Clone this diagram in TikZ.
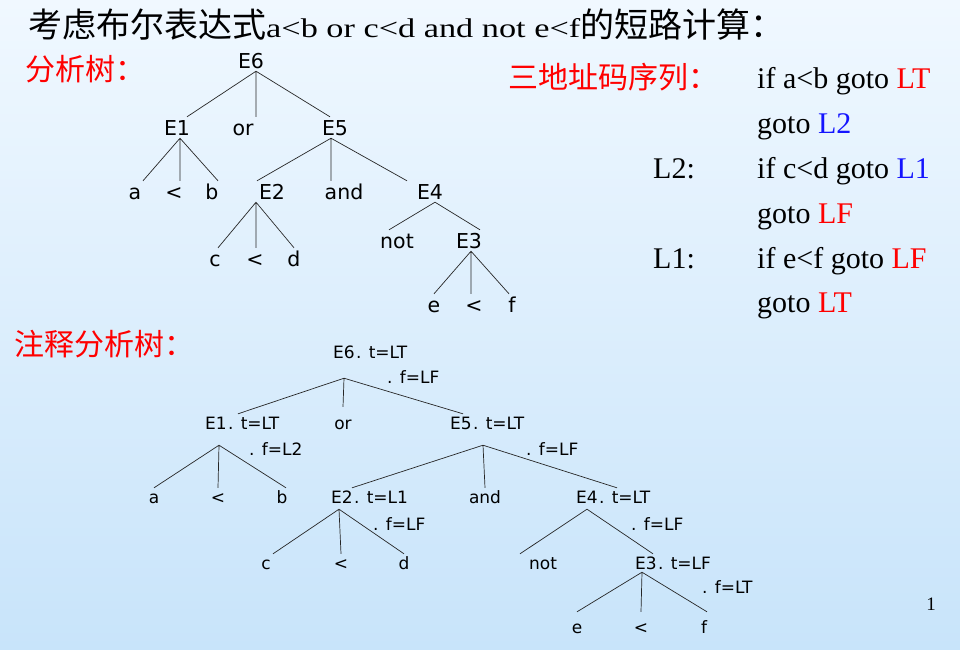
\documentclass[tikz,border=0pt]{standalone}
\usepackage{fontspec}
\setmainfont{Liberation Serif}
\setsansfont{DejaVu Sans}
\newfontfamily\cjk{Noto Sans CJK SC}
\newfontfamily\widefont[FakeStretch=1.27]{Liberation Serif}
\usetikzlibrary{positioning}
\definecolor{bgtop}{RGB}{240,248,255}
\definecolor{bgmid}{RGB}{226,241,253}
\definecolor{bgbottom}{RGB}{200,228,250}
\definecolor{labred}{RGB}{255,0,0}
\definecolor{labblue}{RGB}{20,20,255}

\begin{document}
\begin{tikzpicture}[
        x=1pt, y=-1pt,
        tnode/.style={font=\sffamily\fontsize{20.5}{24}\selectfont, text height=15pt, text depth=0pt, inner sep=3pt, anchor=base},
        anode/.style={font=\sffamily\fontsize{17}{20}\selectfont, text height=12pt, text depth=0pt, inner xsep=1pt, inner ysep=3pt, anchor=base},
        attr/.style={font=\sffamily\fontsize{17}{20}\selectfont, inner sep=0pt, anchor=base west},
        codeline/.style={font=\fontsize{30}{36}\selectfont, inner sep=0pt, anchor=base west},
        redlabel/.style={font=\cjk\fontsize{30}{36}\selectfont, text=labred, inner sep=0pt, anchor=base west},
        tline/.style={draw=black!85, line width=0.7pt}
    ]
    \shade[top color=bgtop, middle color=bgmid, bottom color=bgbottom] (0,0) rectangle (960,649);

    % title
    \node[inner sep=0pt, anchor=base west] (title) at (28,37)
        {\cjk\fontsize{34}{40}\selectfont 考虑布尔表达式{\widefont\fontsize{27}{32}\selectfont a<b or c<d and not e<f}的短路计算：};

    % parse tree
    \node[redlabel] (treelabel) at (25,80) {分析树：};
    \node[tnode] (t6) at (251,68) {E6};
    \node[tnode] (t1) at (177,135) {E1};
    \node[tnode] (tor) at (243,135) {or};
    \node[tnode] (t5) at (335,135) {E5};
    \node[tnode] (ta) at (135,199) {a};
    \node[tnode] (tlt1) at (174,199) {<};
    \node[tnode] (tb) at (212,199) {b};
    \node[tnode] (t2) at (272,199) {E2};
    \node[tnode] (tand) at (344,199) {and};
    \node[tnode] (t4) at (430,199) {E4};
    \node[tnode] (tc) at (215,266) {c};
    \node[tnode] (tlt2) at (255,266) {<};
    \node[tnode] (td) at (294,266) {d};
    \node[tnode] (tnot) at (397,248) {not};
    \node[tnode] (t3) at (469,248) {E3};
    \node[tnode] (te) at (434,312) {e};
    \node[tnode] (tlt3) at (474,312) {<};
    \node[tnode] (tf) at (512,312) {f};

    \draw[tline] ([xshift=5pt]t6.south) -- ([xshift=10pt]t1.north)
                 ([xshift=5pt]t6.south) -- ([xshift=13pt]tor.north)
                 ([xshift=5pt]t6.south) -- ([xshift=-5pt]t5.north);
    \draw[tline] ([xshift=3pt]t1.south) -- ([xshift=8pt]ta.north)
                 ([xshift=3pt]t1.south) -- ([xshift=6pt]tlt1.north)
                 ([xshift=3pt]t1.south) -- ([xshift=6pt]tb.north);
    \draw[tline] ([xshift=-4pt]t5.south) -- ([xshift=-15pt]t2.north)
                 ([xshift=-4pt]t5.south) -- ([xshift=-13pt]tand.north)
                 ([xshift=-4pt]t5.south) -- ([xshift=-23pt]t4.north);
    \draw[tline] ([xshift=-16pt]t2.south) -- ([xshift=3pt]tc.north)
                 ([xshift=-16pt]t2.south) -- ([xshift=1pt]tlt2.north)
                 ([xshift=-16pt]t2.south) -- (td.north);
    \draw[tline] ([xshift=5pt]t4.south) -- ([xshift=-8pt]tnot.north)
                 ([xshift=5pt]t4.south) -- ([xshift=11pt]t3.north);
    \draw[tline] ([xshift=2pt]t3.south) -- (te.north)
                 ([xshift=2pt]t3.south) -- ([xshift=-3pt]tlt3.north)
                 ([xshift=2pt]t3.south) -- ([xshift=-3pt]tf.north);

    % three-address code
    \node[redlabel] (codelabel) at (508,88) {三地址码序列：};
    \node[codeline] (c1) at (757,88) {if a<b goto \textcolor{labred}{LT}};
    \node[codeline, below=45pt of c1.base west, anchor=base west] (c2) {goto \textcolor{labblue}{L2}};
    \node[codeline, below=45pt of c2.base west, anchor=base west] (c3) {if c<d goto \textcolor{labblue}{L1}};
    \node[codeline, below=45pt of c3.base west, anchor=base west] (c4) {goto \textcolor{labred}{LF}};
    \node[codeline, below=45pt of c4.base west, anchor=base west] (c5) {if e<f goto \textcolor{labred}{LF}};
    \node[codeline, below=44pt of c5.base west, anchor=base west] (c6) {goto \textcolor{labred}{LT}};
    \node[codeline, left=104pt of c3.base west, anchor=base west] (l2) {L2:};
    \node[codeline, left=104pt of c5.base west, anchor=base west] (l1) {L1:};

    % annotated parse tree
    \node[redlabel] (annlabel) at (14,355) {注释分析树：};
    \node[anode] (b6) at (344,358) {E6};
    \node[attr] (b6t) at (b6.base east) {. t=LT};
    \node[attr] (b6f) at (387,383) {. f=LF};
    \node[anode] (b1) at (216,429) {E1};
    \node[attr] (b1t) at (b1.base east) {. t=LT};
    \node[attr] (b1f) at (249,455) {. f=L2};
    \node[anode] (bor) at (343,429) {or};
    \node[anode] (b5) at (461,429) {E5};
    \node[attr] (b5t) at (b5.base east) {. t=LT};
    \node[attr] (b5f) at (526,455) {. f=LF};
    \node[anode] (ba) at (154,503) {a};
    \node[anode] (blt1) at (218,503) {<};
    \node[anode] (bb) at (282,503) {b};
    \node[anode] (b2) at (342,503) {E2};
    \node[attr] (b2t) at (b2.base east) {. t=L1};
    \node[attr] (b2f) at (373,530) {. f=LF};
    \node[anode] (band) at (485,503) {and};
    \node[anode] (b4) at (587,503) {E4};
    \node[attr] (b4t) at (b4.base east) {. t=LT};
    \node[attr] (b4f) at (631,530) {. f=LF};
    \node[anode] (bc) at (266,569) {c};
    \node[anode] (blt2) at (341,569) {<};
    \node[anode] (bd) at (404,569) {d};
    \node[anode] (bnot) at (543,569) {not};
    \node[anode] (b3) at (646,569) {E3};
    \node[attr] (b3t) at (b3.base east) {. t=LF};
    \node[attr] (b3f) at (702,593) {. f=LT};
    \node[anode] (be) at (577,633) {e};
    \node[anode] (blt3) at (641,633) {<};
    \node[anode] (bf) at (704,633) {f};

    \draw[tline] ([yshift=-17pt]b6.south) -- ([xshift=22pt]b1.north)
                 ([yshift=-17pt]b6.south) -- ([yshift=7pt]bor.north)
                 ([yshift=-17pt]b6.south) -- ([xshift=2pt]b5.north);
    \draw[tline] ([xshift=3pt,yshift=-13pt]b1.south) -- (ba.north)
                 ([xshift=3pt,yshift=-13pt]b1.south) -- (blt1.north)
                 ([xshift=3pt,yshift=-13pt]b1.south) -- ([xshift=4pt]bb.north);
    \draw[tline] ([xshift=22pt,yshift=-13pt]b5.south) -- ([xshift=10pt]b2.north)
                 ([xshift=22pt,yshift=-13pt]b5.south) -- (band.north)
                 ([xshift=22pt,yshift=-13pt]b5.south) -- ([xshift=30pt]b4.north);
    \draw[tline] ([xshift=-3pt,yshift=-3pt]b2.south) -- ([xshift=7pt]bc.north)
                 ([xshift=-3pt,yshift=-3pt]b2.south) -- (blt2.north)
                 ([xshift=-3pt,yshift=-3pt]b2.south) -- (bd.north);
    \draw[tline] ([yshift=-3pt]b4.south) -- ([xshift=-23pt]bnot.north)
                 ([yshift=-3pt]b4.south) -- ([xshift=7pt]b3.north);
    \draw[tline] ([xshift=-4pt]b3.south) -- ([yshift=6pt]be.north)
                 ([xshift=-4pt]b3.south) -- ([yshift=6pt]blt3.north)
                 ([xshift=-4pt]b3.south) -- ([xshift=3pt,yshift=6pt]bf.north);

    \node[font=\fontsize{19}{22}\selectfont, inner sep=0pt, anchor=base] (pagenum) at (931,610) {1};
\end{tikzpicture}
\end{document}
